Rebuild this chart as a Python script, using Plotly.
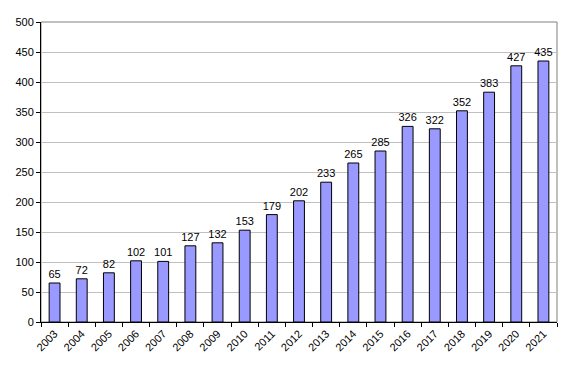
import plotly.graph_objects as go

years = [str(y) for y in range(2003, 2022)]
values = [65, 72, 82, 102, 101, 127, 132, 153, 179, 202, 233, 265, 285, 326, 322, 352, 383, 427, 435]
y_ticks = list(range(0, 501, 50))

fig = go.Figure(go.Bar(
    x=years, y=values, text=[str(v) for v in values],
    textposition="outside", cliponaxis=False, constraintext="none",
    textfont=dict(family="Liberation Sans, Arial", size=11, color="black"),
    marker=dict(color="#9999FF", line=dict(color="black", width=1)),
    width=0.4,
))
fig.update_layout(
    width=560, height=364,
    margin=dict(l=33, r=11, t=14, b=50),
    paper_bgcolor="white", plot_bgcolor="white",
    font=dict(family="Liberation Sans, Arial", size=11, color="black"),
    showlegend=False,
    uniformtext=dict(minsize=11, mode="show"),
    shapes=[dict(type="rect", xref="paper", yref="paper", x0=0, y0=0, x1=1, y1=1,
                 line=dict(color="#808080", width=1), layer="below")],
)
fig.update_xaxes(type="category", tickangle=-45, ticks="outside", ticklen=4,
                 tickson="boundaries", showline=True, linecolor="black", linewidth=1,
                 tickcolor="black", showgrid=False, automargin=False)
fig.update_yaxes(range=[0, 500], tickvals=y_ticks, ticks="outside", ticklen=4,
                 showline=True, linecolor="black", linewidth=1, tickcolor="black",
                 showgrid=True, gridcolor="#C0C0C0", gridwidth=1, zeroline=False,
                 automargin=False)
fig.write_html("out.html")
